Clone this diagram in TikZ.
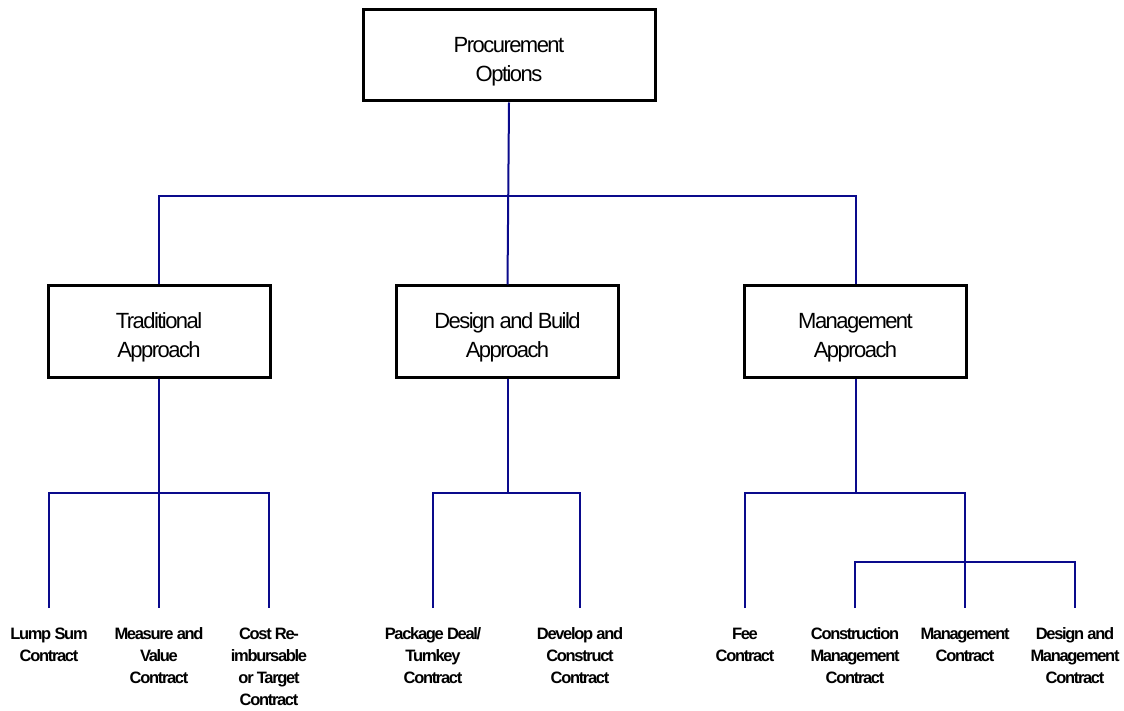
\documentclass[tikz,border=0pt]{standalone}
\usepackage{fontspec}
\setmainfont{Liberation Sans}
\newfontfamily\boxfont[LetterSpace=-7]{Liberation Sans}
\newfontfamily\leaffont[LetterSpace=-8]{Liberation Sans}
\usetikzlibrary{positioning}
\definecolor{linkblue}{RGB}{10,10,140}
\newcommand{\lift}{\rule{0pt}{27pt}}

\begin{document}
\begin{tikzpicture}[x=1pt,y=-1pt,
        box/.style={draw,line width=3pt,minimum height=91pt,align=center,
                font=\boxfont\fontsize{22}{29}\selectfont},
        leaf/.style={anchor=north,align=center,inner sep=0pt,outer ysep=20pt,
                font=\leaffont\fontsize{16.5}{22}\selectfont\bfseries},
        link/.style={draw=linkblue,line width=2pt}]
        \useasboundingbox (0,0) rectangle (1124,711);
        \node[box,minimum width=292pt] (root) at (509,55.5) {\lift Procurement\\Options};
        \node[box,minimum width=222pt] (trad) at (159,331.5) {\lift Traditional\\Approach};
        \node[box,minimum width=222pt] (db) at (507.5,331.5) {\lift Design and Build\\Approach};
        \node[box,minimum width=222pt] (mgmt) at (855.5,331.5) {\lift Management\\Approach};
        \node[leaf] (lump) at (49,608) {Lump Sum\\Contract};
        \node[leaf] (meas) at (159,608) {Measure and\\Value\\Contract};
        \node[leaf] (cost) at (269,608) {Cost Re-\\imbursable\\or Target\\Contract};
        \node[leaf] (pack) at (433,608) {Package Deal/\\Turnkey\\Contract};
        \node[leaf] (dev) at (580,608) {Develop and\\Construct\\Contract};
        \node[leaf] (fee) at (745,608) {Fee\\Contract};
        \node[leaf] (cmc) at (855,608) {Construction\\Management\\Contract};
        \node[leaf] (mc) at (965,608) {Management\\Contract};
        \node[leaf] (dmc) at (1075,608) {Design and\\Management\\Contract};
        \coordinate (j0) at (507.5,196);
        \coordinate (j1) at (159,493);
        \coordinate (j2) at (507.5,493);
        \coordinate (j3) at (855.5,493);
        \coordinate (j4) at (965,562);
        \draw[link] (root.south) -- (db.north);
        \draw[link] (trad.north) |- (j0) -| (mgmt.north);
        \draw[link] (trad.south) -- (meas.north);
        \draw[link] (lump.north) |- (j1) -| (cost.north);
        \draw[link] (db.south) -- (j2);
        \draw[link] (pack.north) |- (j2) -| (dev.north);
        \draw[link] (mgmt.south) -- (j3);
        \draw[link] (fee.north) |- (j3) -| (mc.north);
        \draw[link] (cmc.north) |- (j4) -| (dmc.north);
\end{tikzpicture}
\end{document}
